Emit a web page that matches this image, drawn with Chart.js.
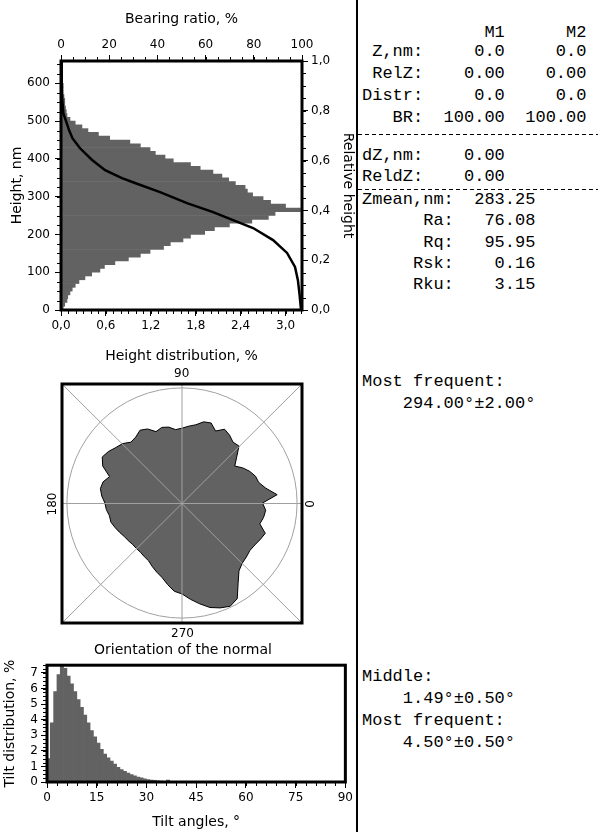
<!DOCTYPE html>
<html>
<head>
<meta charset="utf-8">
<script src="https://cdn.jsdelivr.net/npm/chart.js@4.4.1/dist/chart.umd.min.js"></script>
<style>
  body { margin: 0; background: #fff; }
  #page { position: relative; width: 598px; height: 832px; overflow: hidden; background: #fff; }
  canvas { position: absolute; left: 0; }
  .lbl { position: absolute; font-family: "DejaVu Sans"; font-size: 12px; color: #000; white-space: nowrap; line-height: 14px; }
  .mono { position: absolute; left: 362px; margin: 0; font-family: "Liberation Mono", monospace; font-size: 17px; color: #000; white-space: pre; }
  .dash { position: absolute; left: 358px; width: 240px; height: 1px;
          background: repeating-linear-gradient(to right, #000 0 4px, transparent 4px 7px); }
</style>
</head>
<body>
<div id="page">
  <canvas id="heightChart" width="356" height="372" style="top:0"></canvas>
  <canvas id="orientChart" width="356" height="300" style="top:360px"></canvas>
  <canvas id="tiltChart" width="356" height="177" style="top:655px"></canvas>

  <div class="lbl" style="left:174px;top:366px;">90</div>
  <div class="lbl" style="left:171px;top:626px;">270</div>
  <div class="lbl" style="left:41px;top:497px;transform:rotate(-90deg);">180</div>
  <div class="lbl" style="left:306px;top:497px;transform:rotate(-90deg);">0</div>
  <div class="lbl" style="left:94px;top:641px;font-size:14px;line-height:16px;">Orientation of the normal</div>

  <div style="position:absolute;left:356px;top:0;width:2px;height:832px;background:#000;"></div>
  <div class="dash" style="top:134px"></div>
  <div class="dash" style="top:189px"></div>

  <pre class="mono" style="top:22px;line-height:22px;">            M1      M2</pre>
  <pre class="mono" style="top:41px;line-height:22px;"> Z,nm:     0.0     0.0
 RelZ:    0.00    0.00
Distr:     0.0     0.0
   BR:  100.00  100.00</pre>
  <pre class="mono" style="top:145px;line-height:21px;">dZ,nm:    0.00
ReldZ:    0.00</pre>
  <pre class="mono" style="top:189px;line-height:21.3px;">Zmean,nm:  283.25
      Ra:   76.08
      Rq:   95.95
     Rsk:    0.16
     Rku:    3.15</pre>
  <pre class="mono" style="top:371px;line-height:22px;">Most frequent:
    294.00°±2.00°</pre>
  <pre class="mono" style="top:666px;line-height:22px;">Middle:
    1.49°±0.50°
Most frequent:
    4.50°±0.50°</pre>
</div>

<script>
// height distribution, 10 nm bins (centres, nm) and share of points (%)
const heightBins = [5, 15, 25, 35, 45, 55, 65, 75, 85, 95, 105, 115, 125, 135, 145, 155,
  165, 175, 185, 195, 205, 215, 225, 235, 245, 255, 265, 275, 285, 295, 305, 315,
  325, 335, 345, 355, 365, 375, 385, 395, 405, 415, 425, 435, 445, 455, 465, 475,
  485, 495, 505, 515, 525, 535, 545, 555, 565, 575, 585, 595, 605, 615, 625, 635, 645];
const heightDist = [0.03, 0.05, 0.08, 0.09, 0.12, 0.15, 0.19, 0.24, 0.32, 0.41, 0.52, 0.58,
  0.72, 0.90, 1.06, 1.19, 1.37, 1.46, 1.63, 1.73, 1.92, 2.05, 2.25, 2.55, 2.77, 2.86,
  3.20, 3.00, 2.80, 2.70, 2.56, 2.49, 2.46, 2.33, 2.24, 2.15, 2.03, 1.86, 1.73, 1.50,
  1.39, 1.26, 1.19, 1.06, 0.92, 0.65, 0.50, 0.36, 0.28, 0.19, 0.12, 0.08, 0.07, 0.06,
  0.05, 0.05, 0.04, 0.03, 0.03, 0.03, 0.02, 0.02, 0.02, 0.01, 0.01];

// bearing ratio curve (nm -> %)
const bearingHeights = [659, 620, 580, 550, 520, 498, 475, 454, 428, 397, 370, 349,
  336, 312, 283, 259, 238, 217, 185, 151, 114, 79, 40, 0];
const bearingRatio = [0, 0.2, 0.4, 0.6, 1.0, 2.2, 3.4, 4.8, 7.9, 12.9, 18.3, 25.3,
  30.7, 41.1, 52.3, 63.1, 71.4, 79.7, 88.0, 93.8, 97.1, 98.3, 99.0, 99.6];

// orientation of the normal, degrees (0 = east, counter-clockwise), relative radius
const orientAngles = [0, 5, 10, 15, 20, 25, 30, 35, 40, 45, 50, 55, 60, 65, 70, 75, 80, 85,
  90, 95, 100, 105, 110, 115, 120, 125, 130, 135, 140, 145, 150, 155, 160, 165, 170, 175,
  180, 185, 190, 195, 200, 205, 210, 215, 220, 225, 230, 235, 240, 245, 250, 255, 260, 265,
  270, 275, 280, 285, 290, 295, 300, 305, 310, 315, 320, 325, 330, 335, 340, 345, 350, 355];
const orientValues = [0.70, 0.83, 0.74, 0.69, 0.68, 0.65, 0.61, 0.56, 0.62, 0.70, 0.69, 0.72,
  0.74, 0.69, 0.74, 0.73, 0.69, 0.67, 0.65, 0.64, 0.67, 0.68, 0.66, 0.71, 0.73, 0.70,
  0.69, 0.73, 0.75, 0.78, 0.80, 0.76, 0.67, 0.71, 0.72, 0.70, 0.67, 0.66, 0.64, 0.64,
  0.62, 0.60, 0.58, 0.57, 0.56, 0.56, 0.56, 0.57, 0.58, 0.61, 0.64, 0.67, 0.72, 0.77,
  0.79, 0.84, 0.89, 0.94, 0.97, 0.99, 0.96, 0.85, 0.77, 0.74, 0.73, 0.72, 0.73, 0.75,
  0.77, 0.70, 0.72, 0.73];

// tilt distribution, 1 degree bins (centres) and %
const tiltBins = [0.5, 1.5, 2.5, 3.5, 4.5, 5.5, 6.5, 7.5, 8.5, 9.5, 10.5, 11.5, 12.5, 13.5, 14.5,
  15.5, 16.5, 17.5, 18.5, 19.5, 20.5, 21.5, 22.5, 23.5, 24.5, 25.5, 26.5, 27.5, 28.5, 29.5,
  30.5, 31.5, 32.5, 33.5, 34.5, 35.5, 36.5, 37.5, 38.5, 39.5, 40.5, 41.5, 42.5, 43.5, 44.5,
  45.5, 46.5, 47.5, 48.5, 49.5, 50.5, 51.5, 52.5, 53.5, 54.5, 55.5, 56.5, 57.5, 58.5, 59.5,
  60.5, 61.5, 62.5, 63.5, 64.5, 65.5, 66.5, 67.5, 68.5, 69.5, 70.5, 71.5, 72.5, 73.5, 74.5,
  75.5, 76.5, 77.5, 78.5, 79.5, 80.5, 81.5, 82.5, 83.5, 84.5, 85.5, 86.5, 87.5, 88.5, 89.5];
const tiltDist = [1.5, 3.8, 5.8, 6.9, 7.6, 7.3, 6.8, 6.3, 5.8, 5.3, 4.8, 4.3, 3.8, 3.3, 2.9,
  2.5, 2.1, 1.8, 1.55, 1.35, 1.15, 0.95, 0.8, 0.68, 0.58, 0.48, 0.4, 0.32, 0.26, 0.2,
  0.16, 0.13, 0.1, 0.08, 0.06, 0.05, 0.12, 0.04, 0.03, 0.02, 0.01, 0.01, 0.01, 0.01, 0.01,
  0.01, 0.01, 0.01, 0.01, 0.01, 0.01, 0.01, 0.01, 0.01, 0.01, 0.01, 0.01, 0.01, 0.01, 0.01,
  0.01, 0.01, 0.01, 0.01, 0.01, 0.01, 0.01, 0.01, 0.01, 0.01, 0.01, 0.01, 0.01, 0.01, 0.01,
  0.01, 0.01, 0.01, 0.01, 0.01, 0.01, 0.01, 0.01, 0.01, 0.01, 0.01, 0.01, 0.01, 0.01, 0.01];

Chart.defaults.font.family = 'DejaVu Sans';
Chart.defaults.font.size = 12;
Chart.defaults.color = '#000';

const fill = '#626262';
const comma = v => v.toFixed(1).replace('.', ',');
const titleFont = { size: 14 };

// small minor ticks along axes + thick frame round the plot area
const minorTicks = {
  id: 'minorTicks',
  afterDraw(chart, args, opts) {
    const ctx = chart.ctx, a = chart.chartArea;
    ctx.save();
    ctx.strokeStyle = '#000';
    ctx.lineWidth = 1;
    const steps = opts.steps || {};
    Object.keys(steps).forEach(id => {
      const s = chart.scales[id], step = steps[id];
      const n = Math.floor((s.max - s.min) / step + 1e-6);
      for (let i = 0; i <= n; i++) {
        const p = Math.round(s.getPixelForValue(s.min + i * step)) + 0.5;
        ctx.beginPath();
        if (s.position === 'left') { ctx.moveTo(a.left, p); ctx.lineTo(a.left - 4, p); }
        if (s.position === 'right') { ctx.moveTo(a.right, p); ctx.lineTo(a.right + 4, p); }
        if (s.position === 'top') { ctx.moveTo(p, a.top); ctx.lineTo(p, a.top - 4); }
        if (s.position === 'bottom') { ctx.moveTo(p, a.bottom); ctx.lineTo(p, a.bottom + 4); }
        ctx.stroke();
      }
    });
    ctx.lineWidth = 3;
    ctx.strokeRect(a.left, a.top, a.right - a.left, a.bottom - a.top);
    ctx.restore();
  }
};

// cross and diagonals of the polar frame
const polarCross = {
  id: 'polarCross',
  afterDatasetsDraw(chart) {
    const ctx = chart.ctx, a = chart.chartArea;
    const cx = (a.left + a.right) / 2, cy = (a.top + a.bottom) / 2;
    ctx.save();
    ctx.strokeStyle = '#a0a0a0';
    ctx.lineWidth = 1;
    ctx.beginPath();
    ctx.moveTo(a.left, a.top); ctx.lineTo(a.right, a.bottom);
    ctx.moveTo(a.right, a.top); ctx.lineTo(a.left, a.bottom);
    ctx.moveTo(a.left, cy); ctx.lineTo(a.right, cy);
    ctx.moveTo(cx, a.top); ctx.lineTo(cx, a.bottom);
    ctx.stroke();
    ctx.restore();
  }
};

const tickGrid = { drawOnChartArea: false, offset: false, tickLength: 6, color: '#000' };

new Chart(document.getElementById('heightChart'), {
  type: 'bar',
  data: {
    datasets: [{
      type: 'line',
      data: bearingHeights.map((h, i) => ({ x: bearingRatio[i], y: h })),
      xAxisID: 'x2', yAxisID: 'y',
      borderColor: '#000', borderWidth: 2.5, pointRadius: 0, tension: 0
    }, {
      type: 'bar',
      data: heightBins.map((h, i) => ({ x: heightDist[i], y: h })),
      xAxisID: 'x', yAxisID: 'y',
      backgroundColor: fill, borderWidth: 0,
      barPercentage: 1, categoryPercentage: 1
    }]
  },
  options: {
    indexAxis: 'y',
    responsive: false,
    animation: false,
    plugins: {
      legend: { display: false },
      tooltip: { enabled: false },
      minorTicks: { steps: { x: 0.1, x2: 5, y: 25, y2: 0.05 } }
    },
    scales: {
      x: {
        type: 'linear', position: 'bottom', min: 0, max: 3.22, offset: false,
        ticks: { stepSize: 0.6, includeBounds: false, autoSkip: false, maxRotation: 0, padding: 3, callback: comma },
        grid: tickGrid, border: { display: false },
        title: { display: true, text: 'Height distribution, %', font: titleFont, padding: { top: 2, bottom: 7 } },
        afterFit: s => { s.height = 62; }
      },
      x2: {
        type: 'linear', position: 'top', min: 0, max: 100, offset: false,
        ticks: { stepSize: 20, includeBounds: false, autoSkip: false, maxRotation: 0, padding: 3 },
        grid: tickGrid, border: { display: false },
        title: { display: true, text: 'Bearing ratio, %', font: titleFont, padding: { top: 11, bottom: 2 } },
        afterFit: s => { s.height = 61; }
      },
      y: {
        type: 'linear', position: 'left', min: 0, max: 659, offset: false,
        ticks: { stepSize: 100, includeBounds: false, autoSkip: false, padding: 5 },
        grid: tickGrid, border: { display: false },
        title: { display: true, text: 'Height, nm', font: titleFont, padding: { top: 9, bottom: 0 } },
        afterFit: s => { s.width = 61; }
      },
      y2: {
        type: 'linear', position: 'right', min: 0, max: 1, offset: false,
        ticks: { stepSize: 0.2, includeBounds: false, autoSkip: false, padding: 3, callback: comma },
        grid: tickGrid, border: { display: false },
        title: { display: true, text: 'Relative height', font: titleFont, padding: { top: 0, bottom: 2 } },
        afterFit: s => { s.width = 54; }
      }
    }
  },
  plugins: [minorTicks]
});

// radar goes clockwise from the start angle, so feed the angles in decreasing order
const order = orientAngles.map((a, i) => (orientAngles.length - i) % orientAngles.length);

new Chart(document.getElementById('orientChart'), {
  type: 'radar',
  data: {
    labels: order.map(k => orientAngles[k]),
    datasets: [{
      data: order.map(k => orientValues[k]),
      backgroundColor: fill, borderColor: '#000', borderWidth: 1,
      pointRadius: 0, fill: true, tension: 0
    }]
  },
  options: {
    responsive: false,
    animation: false,
    layout: { padding: { left: 62, right: 54, top: 24, bottom: 37 } },
    plugins: { legend: { display: false }, tooltip: { enabled: false }, minorTicks: { steps: {} } },
    scales: {
      r: {
        min: 0, max: 1.034, startAngle: 90,
        ticks: { display: false },
        afterBuildTicks: s => { s.ticks = [{ value: 0 }, { value: 1 }]; },
        pointLabels: { display: false },
        angleLines: { display: false },
        grid: { circular: true, color: '#a0a0a0', lineWidth: 1 }
      }
    }
  },
  plugins: [polarCross, minorTicks]
});

new Chart(document.getElementById('tiltChart'), {
  type: 'bar',
  data: {
    datasets: [{
      data: tiltBins.map((a, i) => ({ x: a, y: tiltDist[i] })),
      backgroundColor: fill, borderWidth: 0,
      barPercentage: 1, categoryPercentage: 1
    }]
  },
  options: {
    responsive: false,
    animation: false,
    layout: { padding: { right: 8, top: 10 } },
    plugins: {
      legend: { display: false },
      tooltip: { enabled: false },
      minorTicks: { steps: { x: 3, y: 0.25 } }
    },
    scales: {
      x: {
        type: 'linear', min: 0, max: 90, offset: false,
        ticks: { stepSize: 15, includeBounds: false, autoSkip: false, maxRotation: 0, padding: 3 },
        grid: tickGrid, border: { display: false },
        title: { display: true, text: 'Tilt angles, °', font: titleFont, padding: { top: 2, bottom: 1 } },
        afterFit: s => { s.height = 50; }
      },
      y: {
        type: 'linear', min: 0, max: 7.5, offset: false,
        ticks: { stepSize: 1, includeBounds: false, autoSkip: false, padding: 3 },
        grid: tickGrid, border: { display: false },
        title: { display: true, text: 'Tilt distribution, %', font: titleFont, padding: { top: 2, bottom: 0 } },
        afterFit: s => { s.width = 47; }
      }
    }
  },
  plugins: [minorTicks]
});
</script>
</body>
</html>
